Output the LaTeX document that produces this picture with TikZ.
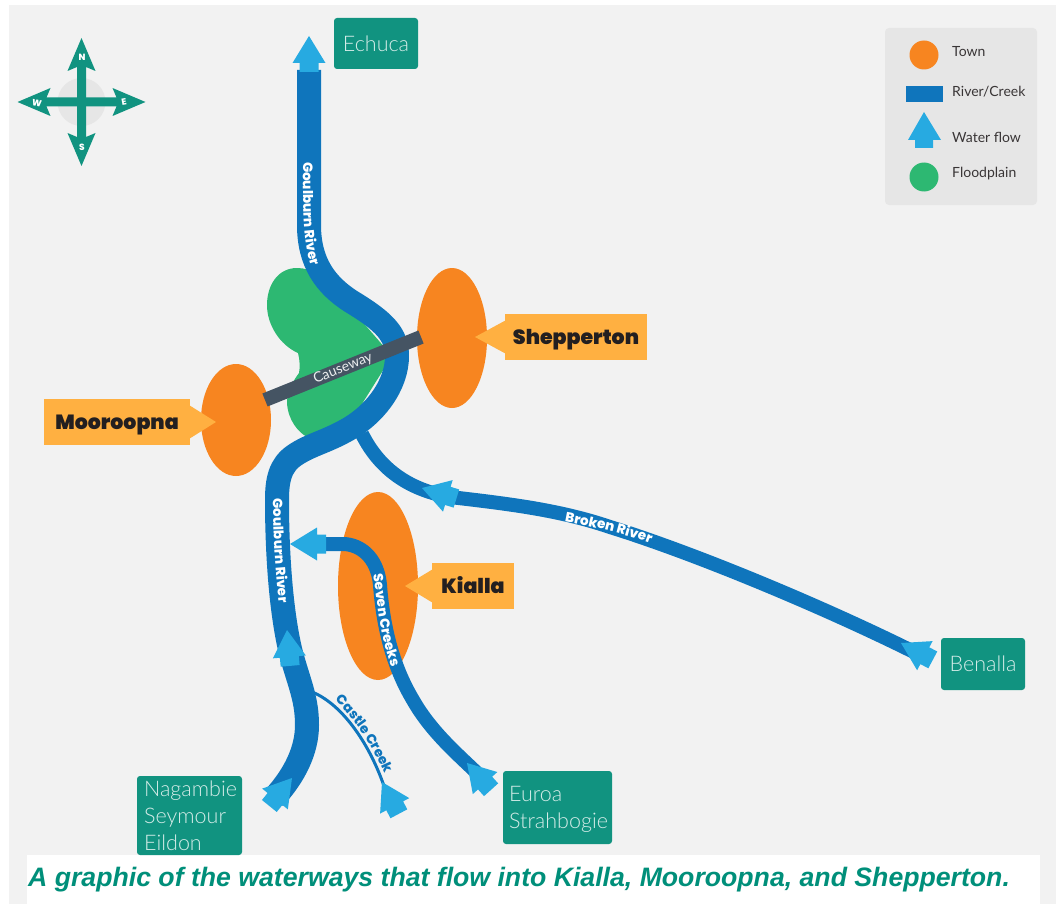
\documentclass[tikz,border=0pt]{standalone}
\usepackage{fontspec}
\setmainfont{Lato}
\newfontfamily\heavyfont{Poppins Black}
\newfontfamily\riverfont{Poppins ExtraBold}
\newfontfamily\lightfont{Lato Light}
\newfontfamily\captionfont{Liberation Sans}
\usetikzlibrary{decorations.text,shapes.geometric}
\definecolor{pagegrey}{HTML}{F2F2F2}
\definecolor{legendgrey}{HTML}{E6E6E6}
\definecolor{teal}{HTML}{119380}
\definecolor{riverblue}{HTML}{0F75BC}
\definecolor{flowblue}{HTML}{27AAE1}
\definecolor{townorange}{HTML}{F78520}
\definecolor{plaingreen}{HTML}{2DB872}
\definecolor{tagorange}{HTML}{FFB041}
\definecolor{roadgrey}{HTML}{455463}
\definecolor{inkblack}{HTML}{231F20}
\definecolor{captionteal}{HTML}{008F7A}
\newcommand\addflow[3]{
	\fill[flowblue, shift={(#1,#2)}, rotate=#3] (0,0) -- (16.5,27) -- (9.5,27) -- (9.5,36) -- (-9.5,36) -- (-9.5,27) -- (-16.5,27) -- cycle;
}
\newcommand\addcompassarm[1]{
	\fill[teal, shift={(compass)}, rotate=#1] (0,-64) -- (14,-31) -- (4.5,-35) -- (4.5,0) -- (-4.5,0) -- (-4.5,-35) -- (-14,-31) -- cycle;
}
\newcommand\addriverlabel[2]{
	\path[decorate, decoration={text along path, text={|\riverfont\fontsize{13.5}{14}\selectfont\color{#1}|#2}, text align=center}]
}

\begin{document}
\begin{tikzpicture}[x=1pt, y=-1pt,
	river/.style = {draw=riverblue, line join=round},
	town/.style = {ellipse, fill=townorange, inner sep=0, minimum width=70, minimum height=112},
	tag/.style = {fill=tagorange, text=inkblack, minimum height=46, inner sep=0, text height=14, text depth=0, font=\heavyfont\fontsize{20.5}{24}\selectfont},
	place/.style = {fill=teal, rounded corners=3, text=white!82!teal, inner sep=0, align=left, anchor=center, font=\lightfont\fontsize{21.5}{27}\selectfont},
	placetext/.style = {anchor=west, inner sep=0, align=left, text=white!82!teal, font=\lightfont\fontsize{21.5}{27}\selectfont},
	key/.style = {anchor=west, inner sep=0, text=inkblack!90, font=\fontsize{14}{15}\selectfont},
	point/.style = {inner sep=0, text=white, font=\riverfont\fontsize{9}{9}\selectfont}]
	\useasboundingbox (0,0) rectangle (1056,904);
	\fill[white] (0,0) rectangle (1056,904);
	\fill[pagegrey] (9,5) rectangle (1056,904);

	\fill[white] (27,855) rectangle (1040,904);
	\node[anchor=west, inner sep=0, text=captionteal, font=\captionfont\bfseries\itshape\fontsize{26.65}{28}\selectfont] (caption) at (28,880) {A graphic of the waterways that flow into Kialla, Mooroopna, and Shepperton.};

	\coordinate (compass) at (81.5,102);
	\fill[legendgrey] (compass) circle (24);
	\addcompassarm{0}
	\addcompassarm{90}
	\addcompassarm{180}
	\addcompassarm{270}
	\node[point] (N) at (82,57) {N};
	\node[point] (S) at (82,147) {S};
	\node[point, rotate=-10] (W) at (37,103) {W};
	\node[point, rotate=10] (E) at (124,102) {E};

	\fill[legendgrey, rounded corners=4] (885,28) rectangle (1037,205);
	\fill[townorange] (924,55) circle (14.5);
	\fill[riverblue] (906,86) rectangle (943,102);
	\fill[flowblue] (924,112) -- (941,140) -- (933,140) -- (933,148) -- (915,148) -- (915,140) -- (908,140) -- cycle;
	\fill[plaingreen] (924,177) circle (14.5);
	\node[key] (keytown) at (952,52) {Town};
	\node[key] (keyriver) at (952,92) {River/Creek};
	\node[key] (keyflow) at (952,137) {Water flow};
	\node[key] (keyplain) at (952,174) {Floodplain};

	\fill[plaingreen] (297,268) .. controls (278,268) and (267,285) .. (267,305) .. controls (267,325) and (280,345) .. (298,353) .. controls (300,360) and (300,368) .. (299,373) .. controls (290,385) and (287,395) .. (287,403) .. controls (288,420) and (298,432) .. (307,437) -- (345,431) -- (392,356) -- (335,290) .. controls (322,277) and (312,268) .. (297,268);

	\node[town, minimum width=70, minimum height=140] (shepperton) at (452,338) {};
	\node[town] (mooroopna) at (236,420) {};
	\node[town, minimum width=80, minimum height=188] (kialla) at (378,586) {};

	\draw[river, line width=14] (362,434) .. controls (380,470) and (410,490) .. (450,497) .. controls (510,504) and (560,510) .. (610,527) .. controls (700,555) and (830,610) .. (918,654);
	\draw[river, line width=24] (309,70) -- (309,225) .. controls (309,262) and (325,285) .. (352,302) .. controls (385,322) and (397,335) .. (397,356) .. controls (397,385) and (375,415) .. (345,431) .. controls (325,442) and (310,445) .. (295,455) .. controls (280,465) and (277,480) .. (277,500) .. controls (277,560) and (282,620) .. (292,657) .. controls (300,685) and (307,700) .. (307,725) .. controls (307,750) and (295,775) .. (274,798);
	\draw[river, line width=14] (305,544) -- (345,544) .. controls (365,546) and (378,562) .. (380,585) .. controls (383,625) and (392,665) .. (413,700) .. controls (430,730) and (455,752) .. (476,772);
	\draw[river, line width=3] (312,692) .. controls (340,703) and (368,740) .. (384,786);

	\draw[roadgrey, line width=14] (265,400) -- node[sloped, inner sep=0, text=white!90!roadgrey, font=\fontsize{14}{16}\selectfont] (causeway) {Causeway} (421,337);

	\addflow{309}{36}{0}
	\addflow{422}{488}{73}
	\addflow{901}{643}{62}
	\addflow{290}{544}{90}
	\addflow{287}{630}{5}
	\addflow{292}{778}{-39}
	\addflow{382}{782}{28}
	\addflow{467}{763}{42}

	\addriverlabel{white}{Goulburn River} (303,160) .. controls (303,200) and (302,245) .. (312,268);
	\addriverlabel{white}{Goulburn River} (273,498) .. controls (273,530) and (275,570) .. (279,604);
	\addriverlabel{white}{Seven Creeks} (373,574) .. controls (377,600) and (380,640) .. (392,668);
	\addriverlabel{white}{Broken River} (563,521) .. controls (590,526) and (625,534) .. (652,544);
	\addriverlabel{riverblue}{Castle Creek} (334,699) .. controls (355,720) and (372,745) .. (385,775);

	\node[tag, minimum width=142] (sheppertontag) at (576,337) {Shepperton};
	\fill[tagorange] (sheppertontag.north west) ++(0,7) -- (475,337) -- ([yshift=7]sheppertontag.south west) -- cycle;
	\node[tag, minimum width=146] (mooroopnatag) at (117,422) {Mooroopna};
	\fill[tagorange] (mooroopnatag.north east) ++(0,7) -- (216,422) -- ([yshift=7]mooroopnatag.south east) -- cycle;
	\node[tag, minimum width=82] (kiallatag) at (473,586) {Kialla};
	\fill[tagorange] (kiallatag.north west) ++(0,7) -- (405,586) -- ([yshift=7]kiallatag.south west) -- cycle;

	\node[place, minimum width=84, minimum height=51, align=center] (echuca) at (376,43.5) {Echuca};
	\node[place, minimum width=84, minimum height=52, align=center] (benalla) at (983,664) {Benalla};
	\node[place, minimum width=105, minimum height=79] (nagambie) at (189.5,815.5) {};
	\node[placetext] (nagambietext) at (144,815.5) {Nagambie\\Seymour\\Eildon};
	\node[place, minimum width=109, minimum height=73] (euroa) at (557.5,807.5) {};
	\node[placetext] (euroatext) at (509,809) {Euroa\\Strahbogie};
\end{tikzpicture}
\end{document}
